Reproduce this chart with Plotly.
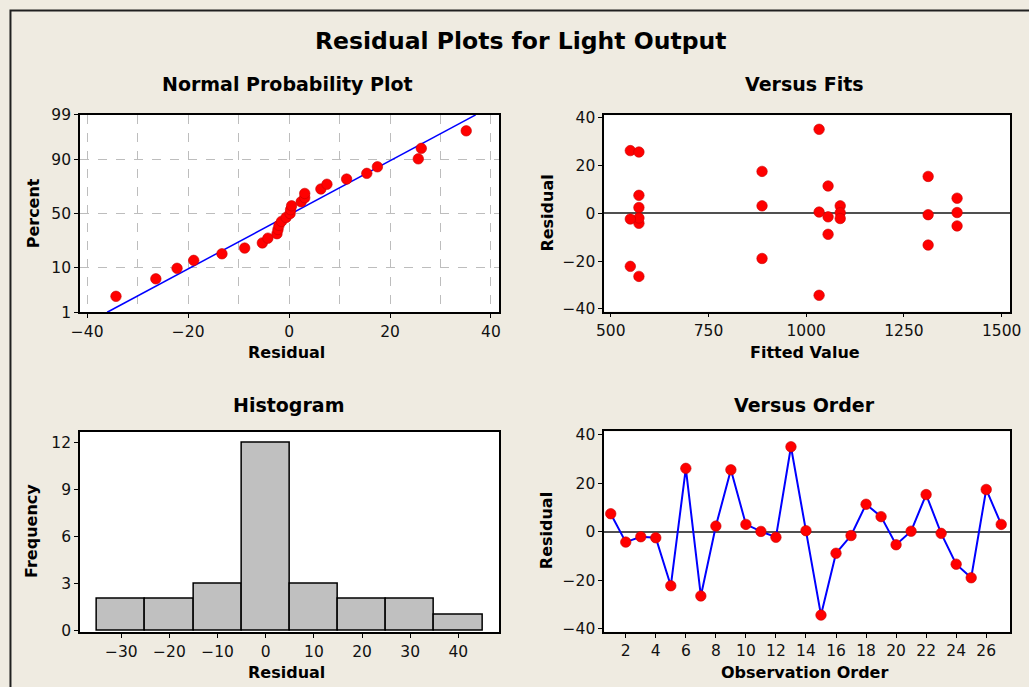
import plotly.graph_objects as go
from statistics import NormalDist, mean, stdev

# ---- data ----
observation = list(range(1, 28))
residuals = [7.5, -4.2, -2.0, -2.4, -22.2, 26.2, -26.4, 2.4, 25.6,
             3.1, 0.2, -2.2, 35.1, 0.5, -34.3, -8.8, -1.5, 11.4,
             6.3, -5.3, 0.3, 15.4, -0.6, -13.3, -18.9, 17.5, 3.1]
fitted = [572, 572, 572, 550, 550, 550, 572, 572, 572,
          1087, 1087, 1087, 1033, 1033, 1033, 1056, 1056, 1056,
          1386, 1386, 1386, 1312, 1312, 1312, 887, 887, 887]
pct_ticks = [1, 10, 50, 90, 99]

W, H = 1029, 687
# empirical mapping of the capture: shown = OFF + S * page
OFF, SX, SY = 9.0, 0.982, 0.972
BG = "#EFEBE1"
FONT = "DejaVu Sans"
RED = "#FF0000"
BLUE = "#0000FF"

nd = NormalDist()
n = len(residuals)
sorted_r = sorted(residuals)
probs = [(i - 0.3) / (n + 0.4) for i in range(1, n + 1)]
zs = [nd.inv_cdf(p) for p in probs]
mu, sd = mean(residuals), stdev(residuals)
zlim = nd.inv_cdf(0.99)
line_z = [-zlim, zlim]
line_x = [mu + sd * z for z in line_z]

marker = dict(color=RED, size=10.5, line=dict(color="#C80000", width=0.6))

fig = go.Figure()
# Normal probability plot
fig.add_trace(go.Scatter(x=line_x, y=line_z, mode="lines",
                         line=dict(color=BLUE, width=1.5), xaxis="x", yaxis="y"))
fig.add_trace(go.Scatter(x=sorted_r, y=zs, mode="markers", marker=marker,
                         xaxis="x", yaxis="y"))
# Versus fits
fig.add_trace(go.Scatter(x=fitted, y=residuals, mode="markers", marker=marker,
                         xaxis="x2", yaxis="y2"))
# Histogram
fig.add_trace(go.Histogram(x=residuals, xbins=dict(start=-35, end=45, size=10),
                           marker=dict(color="#C0C0C0", line=dict(color="black", width=1.5)),
                           xaxis="x3", yaxis="y3"))
# Versus order
fig.add_trace(go.Scatter(x=observation, y=residuals, mode="lines+markers",
                         line=dict(color=BLUE, width=2), marker=marker,
                         xaxis="x4", yaxis="y4"))

def fx(x):
    return ((x - OFF) / SX) / W

def fy(y):
    return 1 - ((y - OFF) / SY) / H

def px_x(a, b):
    return [fx(a), fx(b)]

def px_y(top, bottom):
    return [fy(bottom), fy(top)]

tickfont = dict(family=FONT, size=15.5, color="#111")

def axis(**kw):
    base = dict(showline=True, linecolor="black", linewidth=1.5, mirror=True,
                ticks="outside", ticklen=4, tickcolor="black", tickwidth=1.2,
                tickfont=tickfont, showgrid=False, zeroline=False, fixedrange=True,
                ticklabeloverflow="allow")
    base.update(kw)
    return base

grid = dict(showgrid=True, gridcolor="#BDBDBD", griddash="dash", gridwidth=1.2)

fig.update_layout(
    width=W, height=H, margin=dict(l=0, r=0, t=0, b=0),
    paper_bgcolor=BG, plot_bgcolor="white", showlegend=False, bargap=0,
    xaxis=axis(domain=px_x(80, 500), range=[-41.45, 41.65],
               tickvals=[-40, -20, 0, 20, 40], anchor="y",
               minor=dict(tickvals=[-30, -10, 10, 30], showgrid=True,
                          gridcolor="#BDBDBD", griddash="dash", gridwidth=1.2, ticks=""),
               **grid),
    yaxis=axis(domain=px_y(114.7, 311.7), range=[-zlim, zlim],
               tickvals=[nd.inv_cdf(p / 100) for p in pct_ticks],
               ticktext=[str(p) for p in pct_ticks], anchor="x", **grid),
    xaxis2=axis(domain=px_x(605, 1011.7), range=[483, 1522],
                tickvals=[500, 750, 1000, 1250, 1500], anchor="y2"),
    yaxis2=axis(domain=px_y(115, 311), range=[-41.1, 41.0],
                tickvals=[-40, -20, 0, 20, 40], anchor="x2",
                zeroline=True, zerolinecolor="#505050", zerolinewidth=1.5),
    xaxis3=axis(domain=px_x(80, 500), range=[-38.6, 48.5],
                tickvals=[-30, -20, -10, 0, 10, 20, 30, 40], anchor="y3"),
    yaxis3=axis(domain=px_y(431, 631), range=[-0.1, 12.68],
                tickvals=[0, 3, 6, 9, 12], anchor="x3"),
    xaxis4=axis(domain=px_x(605, 1011.7), range=[0.56, 27.6],
                tickvals=list(range(2, 27, 2)), anchor="y4"),
    yaxis4=axis(domain=px_y(430.7, 630.7), range=[-41.2, 41.4],
                tickvals=[-40, -20, 0, 20, 40], anchor="x4",
                zeroline=True, zerolinecolor="#505050", zerolinewidth=1.5),
)

def ann(text, x, y, size, angle=0):
    fig.add_annotation(text="<b>%s</b>" % text, x=fx(x), y=fy(y),
                       xref="paper", yref="paper", showarrow=False,
                       xanchor="center", yanchor="middle", textangle=angle,
                       font=dict(family=FONT, size=size, color="black"))

ann("Residual Plots for Light Output", 521, 41, 23.5)
ann("Normal Probability Plot", 288, 84, 19)
ann("Versus Fits", 806, 84, 19)
ann("Histogram", 289, 404, 19)
ann("Versus Order", 806, 404, 19)
ann("Residual", 287, 352, 16)
ann("Fitted Value", 806, 352, 16)
ann("Residual", 287, 671, 16)
ann("Observation Order", 806, 671, 16)
ann("Percent", 33, 213, 16, -90)
ann("Residual", 548, 213, 16, -90)
ann("Frequency", 32, 530, 16, -90)
ann("Residual", 548, 530, 16, -90)

# outer frame (left and top edges visible)
fig.add_shape(type="rect", xref="paper", yref="paper",
              x0=1.5 / W, y0=-0.05, x1=1.05, y1=1 - 1.5 / H,
              line=dict(color="#202020", width=2), fillcolor="rgba(0,0,0,0)", layer="below")

post = (
    "document.documentElement.style.margin='0px';"
    "document.body.style.margin='0px';"
    "document.body.style.padding='0px';"
    "document.body.style.overflow='hidden';"
    "document.body.style.background='" + BG + "';"
    "var d=document.getElementById('{plot_id}');"
    "d.style.position='fixed';d.style.left='0px';d.style.top='0px';"
)
fig.write_html("out.html", config={"displayModeBar": False}, post_script=post)
